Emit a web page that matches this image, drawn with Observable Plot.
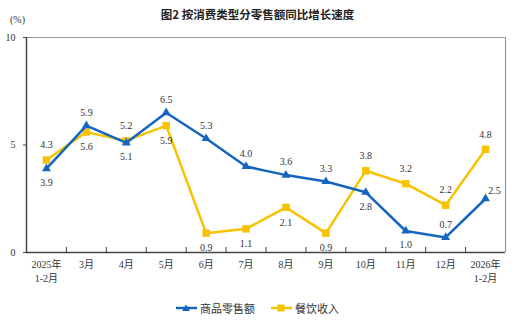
<!DOCTYPE html>
<html><head><meta charset="utf-8">
<script src="https://cdn.jsdelivr.net/npm/d3@7"></script>
<script src="https://cdn.jsdelivr.net/npm/@observablehq/plot@0.6"></script>
<style>
body{margin:0;background:#fff;}
#wrap{position:relative;width:515px;height:323px;font-family:"Liberation Serif","Noto Sans CJK SC",serif;}
#title{position:absolute;left:0;width:515px;top:6px;text-align:center;font:700 11.5px "Noto Sans CJK SC",sans-serif;color:#222;}
#unit{position:absolute;left:10px;top:14px;font-size:10px;color:#333;}
#legend{position:absolute;top:300px;left:0;width:515px;font-size:11px;color:#333;}
.li{position:absolute;display:flex;align-items:center;gap:3px;}
</style></head><body>
<div id="wrap"><div id="title">图2 按消费类型分零售额同比增长速度</div><div id="unit">(%)</div><div id="chart"></div><div id="legend"></div></div>
<script>
const categories = ["2025年\n1-2月","3月","4月","5月","6月","7月","8月","9月","10月","11月","12月","2026年\n1-2月"];
const retailGoods = [3.9,5.9,5.1,6.5,5.3,4.0,3.6,3.3,2.8,1.0,0.7,2.5];
const catering = [4.3,5.6,5.2,5.9,0.9,1.1,2.1,0.9,3.8,3.2,2.2,4.8];
const retailLabelSide = ["b","t","b","t","t","t","t","t","b","b","t","tr"];
const cateringLabelSide = ["t","b","t","b","b","b","b","b","t","t","t","t"];
const yTicks = [0,5,10];
const seriesNames = ["商品零售额","餐饮收入"];
const colors = ["#1565c0","#f7c300"];

const rows = [];
categories.forEach((c,i)=>{
  rows.push({i, x:i+0.5, v:retailGoods[i], s:seriesNames[0], side:retailLabelSide[i]});
  rows.push({i, x:i+0.5, v:catering[i], s:seriesNames[1], side:cateringLabelSide[i]});
});
const R = rows.filter(d=>d.s===seriesNames[0]);
const C = rows.filter(d=>d.s===seriesNames[1]);
const lab = (data, side, dy, dx) => Plot.text(data.filter(d=>d.side===side), {x:"x", y:"v", text:d=>d.v.toFixed(1), dy, dx:dx||0, fontSize:10, fill:"#333", fontFamily:"Liberation Serif"});

const plot = Plot.plot({
  width:515, height:323,
  marginLeft:26, marginRight:10, marginTop:37, marginBottom:71,
  x:{domain:[0,12]},
  y:{domain:[0,10]},
  style:{fontFamily:"Liberation Serif, Noto Sans CJK SC, serif", fontSize:"10px", color:"#333"},
  marks:[
    Plot.ruleY([10],{stroke:"#999",strokeWidth:1.2}),
    Plot.ruleX([12],{stroke:"#999",strokeWidth:1.2}),
    Plot.ruleX([0],{stroke:"#444",strokeWidth:1.5}),
    Plot.ruleY([0],{stroke:"#444",strokeWidth:1.5}),
    Plot.axisY({ticks:yTicks, tickSize:3, tickPadding:8, label:null, stroke:"#444", fontSize:10}),
    Plot.axisX({ticks:d3.range(1,12), tickSize:-5, tickFormat:()=>"", label:null, stroke:"#444"}),
    Plot.axisX({ticks:categories.map((c,i)=>i+0.5), tickSize:0, tickPadding:6, tickFormat:(d)=>categories[Math.round(d-0.5)], label:null, fontSize:10, lineHeight:1.35}),
    Plot.line(C,{x:"x",y:"v",stroke:colors[1],strokeWidth:2.5}),
    Plot.dot(C,{x:"x",y:"v",symbol:"square",fill:colors[1],r:4.2}),
    Plot.line(R,{x:"x",y:"v",stroke:colors[0],strokeWidth:2.5}),
    Plot.dot(R,{x:"x",y:"v",symbol:"triangle",fill:colors[0],r:3.3}),
    lab(R,"t",-13), lab(R,"b",14), lab(R,"tr",-8,9),
    lab(C,"t",-15), lab(C,"b",15)
  ]
});
document.getElementById("chart").appendChild(plot);

const leg = document.getElementById("legend");
const items = [{x:176, sym:"tri"},{x:271, sym:"sq"}];
items.forEach((it,k)=>{
  const d = document.createElement("div");
  d.className="li"; d.style.left=it.x+"px";
  const m = it.sym==="tri" ? `<polygon points="10,0.5 14,7 6,7" fill="${colors[k]}"/>` : `<rect x="6.5" y="0.5" width="7" height="7" fill="${colors[k]}"/>`;
  d.innerHTML = `<svg width="21" height="8"><line x1="0" y1="4" x2="21" y2="4" stroke="${colors[k]}" stroke-width="2.5"/>${m}</svg><span>${seriesNames[k]}</span>`;
  leg.appendChild(d);
});
</script></body></html>
